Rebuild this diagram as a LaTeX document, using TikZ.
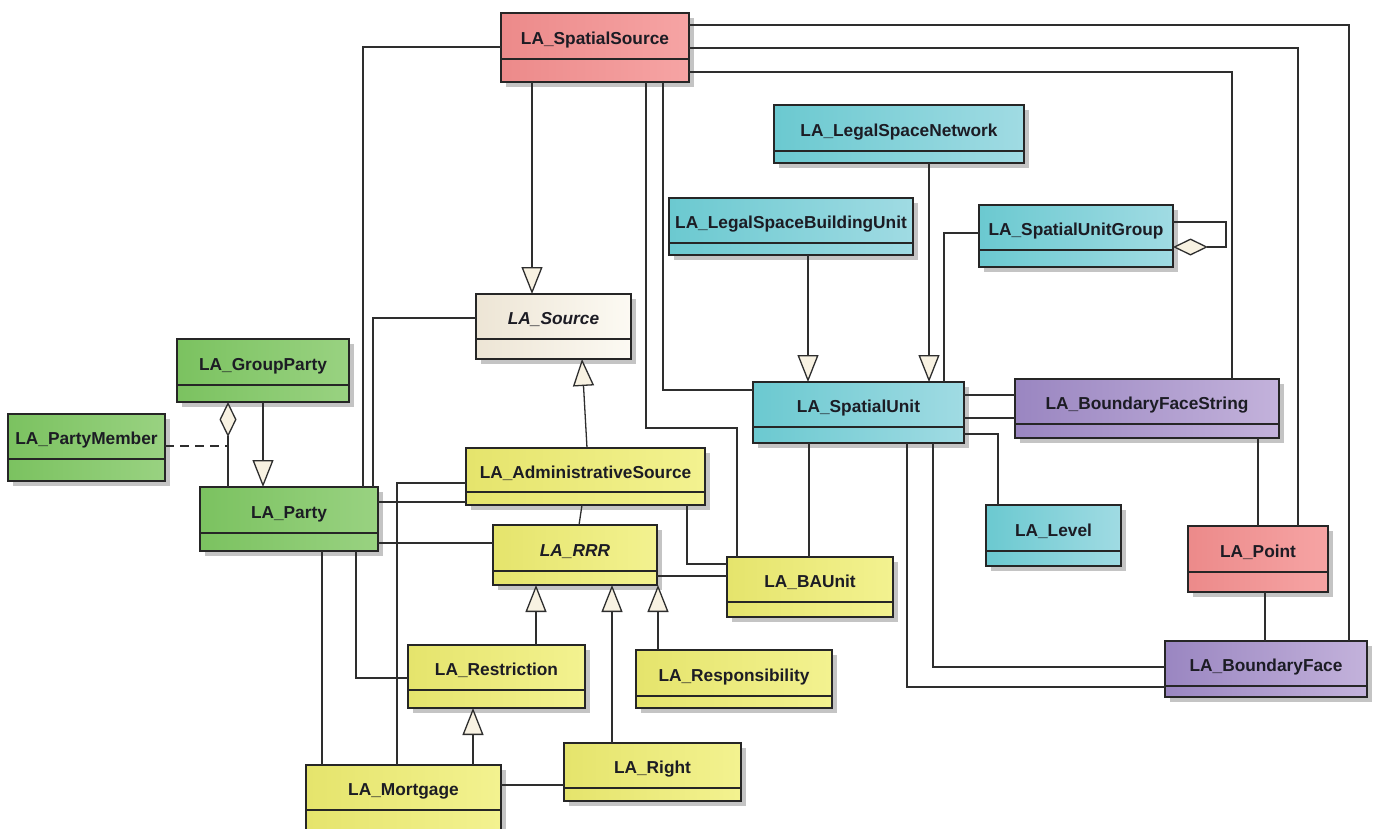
\documentclass[tikz,border=0pt]{standalone}
\usepackage{fontspec}
\newfontfamily\umlfont{Liberation Sans}
\usetikzlibrary{arrows.meta,calc}

\definecolor{redL}{HTML}{EC8A8A}
\definecolor{redR}{HTML}{F6A4A4}
\definecolor{beigeL}{HTML}{EDE5D5}
\definecolor{beigeR}{HTML}{FCFAF3}
\definecolor{greenL}{HTML}{7BC260}
\definecolor{greenR}{HTML}{99D281}
\definecolor{yellowL}{HTML}{E5E46C}
\definecolor{yellowR}{HTML}{F3F290}
\definecolor{cyanL}{HTML}{6BC9D0}
\definecolor{cyanR}{HTML}{A0DBE3}
\definecolor{purpleL}{HTML}{9A86C1}
\definecolor{purpleR}{HTML}{C3B2DB}
\definecolor{shadowc}{HTML}{C4C4C4}
\definecolor{edgec}{HTML}{262626}
\definecolor{linec}{HTML}{2E2E2E}
\definecolor{txtc}{HTML}{1C1C24}
\definecolor{tipc}{HTML}{F8F2E2}

\tikzset{
  classbox/.style={draw=edgec, line width=1.5pt, shape=rectangle, inner sep=0pt, outer sep=0pt},
  divider/.style={draw=edgec, line width=1.5pt},
  classlabel/.style={font=\umlfont\bfseries\fontsize{17.3}{20}\selectfont, text=txtc, inner sep=0pt, anchor=base},
  redcls/.style={left color=redL, right color=redR},
  beigecls/.style={left color=beigeL, right color=beigeR},
  greencls/.style={left color=greenL, right color=greenR},
  yellowcls/.style={left color=yellowL, right color=yellowR},
  cyancls/.style={left color=cyanL, right color=cyanR},
  purplecls/.style={left color=purpleL, right color=purpleR},
  conn/.style={draw=linec, line width=1.3pt},
  gen/.style={conn, -{Triangle[width=21pt,length=27pt,fill=tipc]}},
  agg/.style={conn, {Diamond[width=17pt,length=35pt,fill=tipc]}-},
  assocdash/.style={conn, dash pattern=on 9pt off 6pt},
}

% \umlclass{name}{left}{top}{right}{bottom}{divider}{colour style}{label}
\newcommand\umlclass[8]{%
  \pgfmathsetmacro\boxw{#4-#2}%
  \pgfmathsetmacro\boxh{#5-#3}%
  \fill[shadowc] ({#2+5},{#3+5}) rectangle ({#4+5},{#5+5});
  \node[classbox,#7,minimum width=\boxw pt,minimum height=\boxh pt,anchor=north west] (#1) at (#2,#3) {};
  \draw[divider] (#2,#6) -- (#4,#6);
  \node[classlabel] at ({(#2+#4)/2},{(#3+#6)/2+8}) {#8};
}

\begin{document}
\begin{tikzpicture}[x=1pt,y=-1pt]
\useasboundingbox (0,0) rectangle (1375,828);
\clip (0,0) rectangle (1375,828);
\fill[white] (0,0) rectangle (1375,828);

% ---- classes ----
\umlclass{ss}{501}{13}{689}{82}{59}{redcls}{LA\_SpatialSource}
\umlclass{src}{476}{294}{631}{359}{339}{beigecls}{\itshape LA\_Source}
\umlclass{gp}{177}{339}{349}{402}{385}{greencls}{LA\_GroupParty}
\umlclass{pm}{8}{414}{165}{481}{459}{greencls}{LA\_PartyMember}
\umlclass{pty}{200}{487}{378}{551}{533}{greencls}{LA\_Party}
\umlclass{adm}{466}{448}{705}{505}{492}{yellowcls}{LA\_AdministrativeSource}
\umlclass{rrr}{493}{525}{657}{585}{571}{yellowcls}{\itshape LA\_RRR}
\umlclass{ba}{727}{557}{893}{617}{602}{yellowcls}{LA\_BAUnit}
\umlclass{rst}{408}{645}{585}{708}{690}{yellowcls}{LA\_Restriction}
\umlclass{rsp}{636}{650}{832}{708}{696}{yellowcls}{LA\_Responsibility}
\umlclass{mtg}{306}{765}{501}{850}{810}{yellowcls}{LA\_Mortgage}
\umlclass{rgt}{564}{743}{741}{801}{788}{yellowcls}{LA\_Right}
\umlclass{lsn}{774}{105}{1024}{163}{151}{cyancls}{LA\_LegalSpaceNetwork}
\umlclass{lsb}{669}{198}{913}{255}{243}{cyancls}{LA\_LegalSpaceBuildingUnit}
\umlclass{sug}{979}{205}{1173}{267}{250}{cyancls}{LA\_SpatialUnitGroup}
\umlclass{su}{753}{382}{964}{443}{427}{cyancls}{LA\_SpatialUnit}
\umlclass{bfs}{1015}{379}{1279}{438}{424}{purplecls}{LA\_BoundaryFaceString}
\umlclass{lvl}{986}{505}{1121}{566}{551}{cyancls}{LA\_Level}
\umlclass{pt}{1188}{526}{1328}{592}{572}{redcls}{LA\_Point}
\umlclass{bf}{1165}{641}{1367}{697}{686}{purplecls}{LA\_BoundaryFace}

% ---- associations from LA_SpatialSource ----
\draw[conn] (ss.west |- 0,47) -| (pty.north -| 363,0);
\draw[gen] (ss.south -| 532,0) -- (src.north -| 532,0);
\draw[conn] (ss.south -| 663,0) |- (su.west |- 0,390);
\draw[conn] (ss.south -| 646,0) |- (737,428) -- (ba.north -| 737,0);
\draw[conn] (ss.east |- 0,25) -| (bf.north -| 1349,0);
\draw[conn] (ss.east |- 0,48) -| (pt.north -| 1298,0);
\draw[conn] (ss.east |- 0,72) -| (bfs.north -| 1232,0);

% ---- party package ----
\draw[conn] (src.west |- 0,318) -| (pty.north -| 373,0);
\draw[gen] (gp.south -| 263,0) -- (pty.north -| 263,0);
\draw[agg] (gp.south -| 228,0) -- (pty.north -| 228,0);
\coordinate (memberlink) at (228,446);
\draw[assocdash] (pm.east |- 0,446) -- (memberlink);
\draw[conn] (pty.east |- 0,502) -- (adm.west |- 0,502);
\draw[conn] (pty.east |- 0,543) -- (rrr.west |- 0,543);
\draw[conn] (adm.west |- 0,483) -| (mtg.north -| 397,0);
\draw[conn] (pty.south -| 322,0) -- (mtg.north -| 322,0);
\draw[conn] (pty.south -| 356,0) |- (rst.west |- 0,678);

% ---- administrative package ----
\draw[gen] (adm.north -| 587,0) -- (src.south -| 582,0);
\draw[conn] (adm.south -| 582,0) -- (rrr.north -| 579,0);
\draw[conn] (adm.south -| 687,0) |- (ba.west |- 0,564);
\draw[conn] (rrr.east |- 0,576) -- (ba.west |- 0,576);
\draw[conn] (ba.north -| 809,0) -- (su.south -| 809,0);
\draw[gen] (rst.north -| 536,0) -- (rrr.south -| 536,0);
\draw[gen] (rgt.north -| 612,0) -- (rrr.south -| 612,0);
\draw[gen] (rsp.north -| 658,0) -- (rrr.south -| 658,0);
\draw[gen] (mtg.north -| 473,0) -- (rst.south -| 473,0);
\draw[conn] (mtg.east |- 0,785) -- (rgt.west |- 0,785);

% ---- spatial package ----
\draw[gen] (lsb.south -| 808,0) -- (su.north -| 808,0);
\draw[gen] (lsn.south -| 929,0) -- (su.north -| 929,0);
\draw[conn] (sug.west |- 0,233) -| (su.north -| 944,0);
\draw[agg] (sug.east |- 0,247) -- (1226,247) |- (sug.east |- 0,222);
\draw[conn] (su.east |- 0,395) -- (bfs.west |- 0,395);
\draw[conn] (su.east |- 0,418) -- (bfs.west |- 0,418);
\draw[conn] (su.east |- 0,434) -| (lvl.north -| 998,0);
\draw[conn] (su.south -| 907,0) |- (bf.west |- 0,687);
\draw[conn] (su.south -| 933,0) |- (bf.west |- 0,667);
\draw[conn] (bfs.south -| 1258,0) -- (pt.north -| 1258,0);
\draw[conn] (pt.south -| 1265,0) -- (bf.north -| 1265,0);
\end{tikzpicture}
\end{document}
